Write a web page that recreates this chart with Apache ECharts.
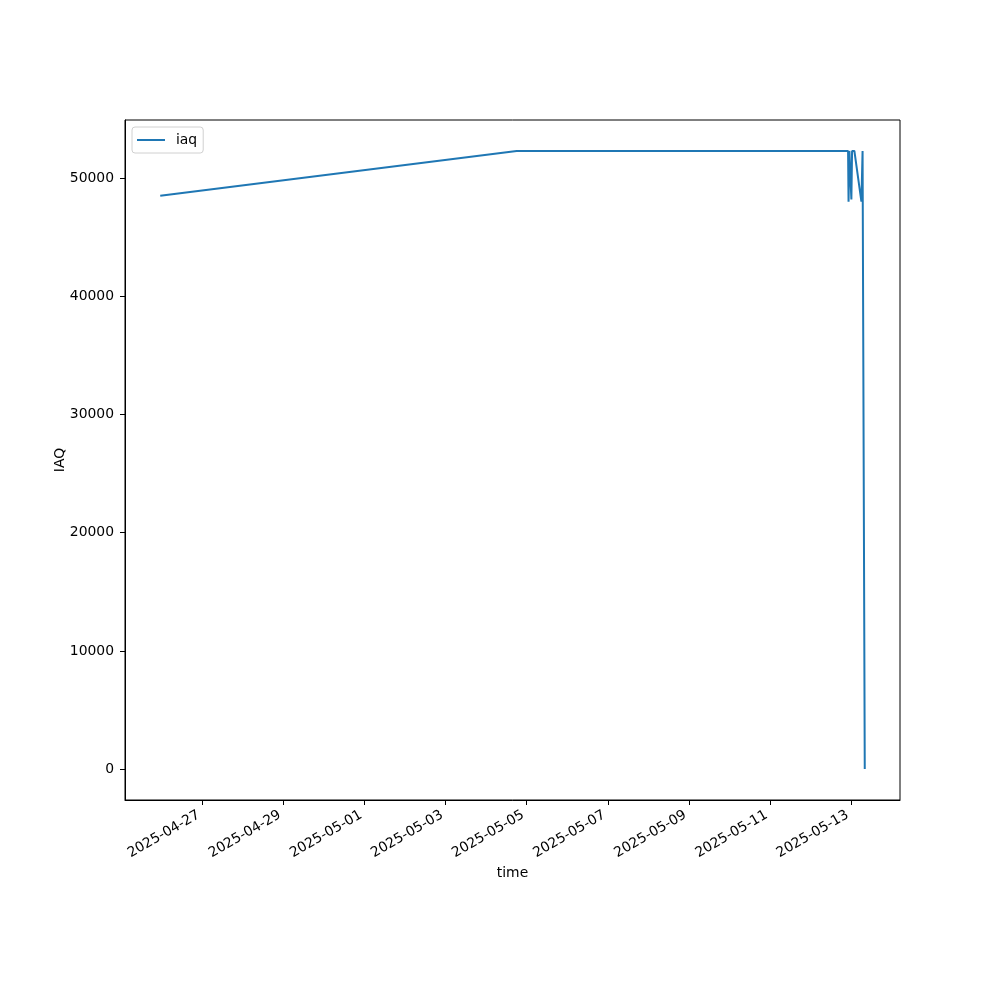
<!DOCTYPE html>
<html>
<head>
<meta charset="utf-8">
<script src="https://cdn.jsdelivr.net/npm/echarts@6/dist/echarts.min.js"></script>
<style>html,body{margin:0;padding:0;background:#fff}#c{width:1000px;height:1000px}</style>
</head>
<body>
<div id="c"></div>
<script>
const times = ['2025-04-25T23:08:00Z', '2025-05-04T18:05:00Z', '2025-05-12T22:13:00Z', '2025-05-12T22:30:00Z',
  '2025-05-12T23:00:00Z', '2025-05-13T00:10:00Z', '2025-05-13T00:35:00Z', '2025-05-13T01:57:00Z',
  '2025-05-13T06:06:00Z', '2025-05-13T06:48:00Z', '2025-05-13T08:06:00Z'];
const iaq = [48500, 52300, 52300, 48000, 52300, 48200, 52300, 52300, 48000, 52300, 0];
const xTicks = ['2025-04-27', '2025-04-29', '2025-05-01', '2025-05-03', '2025-05-05', '2025-05-07', '2025-05-09', '2025-05-11', '2025-05-13'];
const yTicks = [0, 10000, 20000, 30000, 40000, 50000];

const ts = times.map(t => Date.parse(t));
const data = ts.map((t, i) => [t, iaq[i]]);
const xMinD = Math.min(...ts), xMaxD = Math.max(...ts);
const xPad = (xMaxD - xMinD) * 0.05;
const yMinD = Math.min(...iaq), yMaxD = Math.max(...iaq);
const yPad = (yMaxD - yMinD) * 0.05;
const xTickVals = xTicks.map(d => Date.parse(d + 'T00:00:00Z'));
function fmt(v) {
  const d = new Date(v);
  const p = n => String(n).padStart(2, '0');
  return d.getUTCFullYear() + '-' + p(d.getUTCMonth() + 1) + '-' + p(d.getUTCDate());
}
const font = 'DejaVu Sans';
const chart = echarts.init(document.getElementById('c'), null, {renderer: 'canvas'});
chart.setOption({
  animation: false,
  backgroundColor: '#fff',
  textStyle: {fontFamily: font},
  grid: {left: 125, right: 100, top: 120, bottom: 200, show: true, borderColor: '#000', borderWidth: 1, containLabel: false},
  legend: {
    left: 132, top: 127, orient: 'vertical',
    data: [{name: 'iaq', icon: 'rect'}],
    itemWidth: 28, itemHeight: 2, itemGap: 5,
    padding: [6, 6, 6, 5],
    borderColor: '#d0d0d0', borderWidth: 1, borderRadius: 3,
    backgroundColor: 'rgba(255,255,255,0.8)',
    textStyle: {fontFamily: font, fontSize: 13.9, color: '#000', padding: [0, 0, 0, 6]}
  },
  xAxis: {
    type: 'value',
    min: xMinD - xPad, max: xMaxD + xPad,
    name: 'time', nameLocation: 'middle', nameGap: 66, nameMoveOverlap: false,
    nameTextStyle: {fontFamily: font, fontSize: 13.9, color: '#000'},
    axisLine: {show: true, onZero: false, lineStyle: {color: '#000', width: 1}},
    axisTick: {show: true, length: 5, lineStyle: {color: '#000'}, customValues: xTickVals},
    axisLabel: {show: true, rotate: 30, margin: 12, padding: [0, 4, 0, 0], fontFamily: font, fontSize: 13.9, color: '#000', customValues: xTickVals, formatter: fmt},
    splitLine: {show: false}
  },
  yAxis: {
    type: 'value',
    min: yMinD - yPad, max: yMaxD + yPad,
    name: 'IAQ', nameLocation: 'middle', nameGap: 58, nameRotate: 90, nameMoveOverlap: false,
    nameTextStyle: {fontFamily: font, fontSize: 13.9, color: '#000'},
    axisLine: {show: true, onZero: false, lineStyle: {color: '#000', width: 1}},
    axisTick: {show: true, length: 5, lineStyle: {color: '#000'}, customValues: yTicks},
    axisLabel: {show: true, margin: 11, fontFamily: font, fontSize: 13.9, color: '#000', customValues: yTicks, formatter: v => String(v)},
    splitLine: {show: false}
  },
  series: [{
    name: 'iaq', type: 'line', data: data,
    showSymbol: false, symbol: 'none',
    lineStyle: {color: '#1f77b4', width: 2},
    itemStyle: {color: '#1f77b4'}
  }]
});
</script>
</body>
</html>
